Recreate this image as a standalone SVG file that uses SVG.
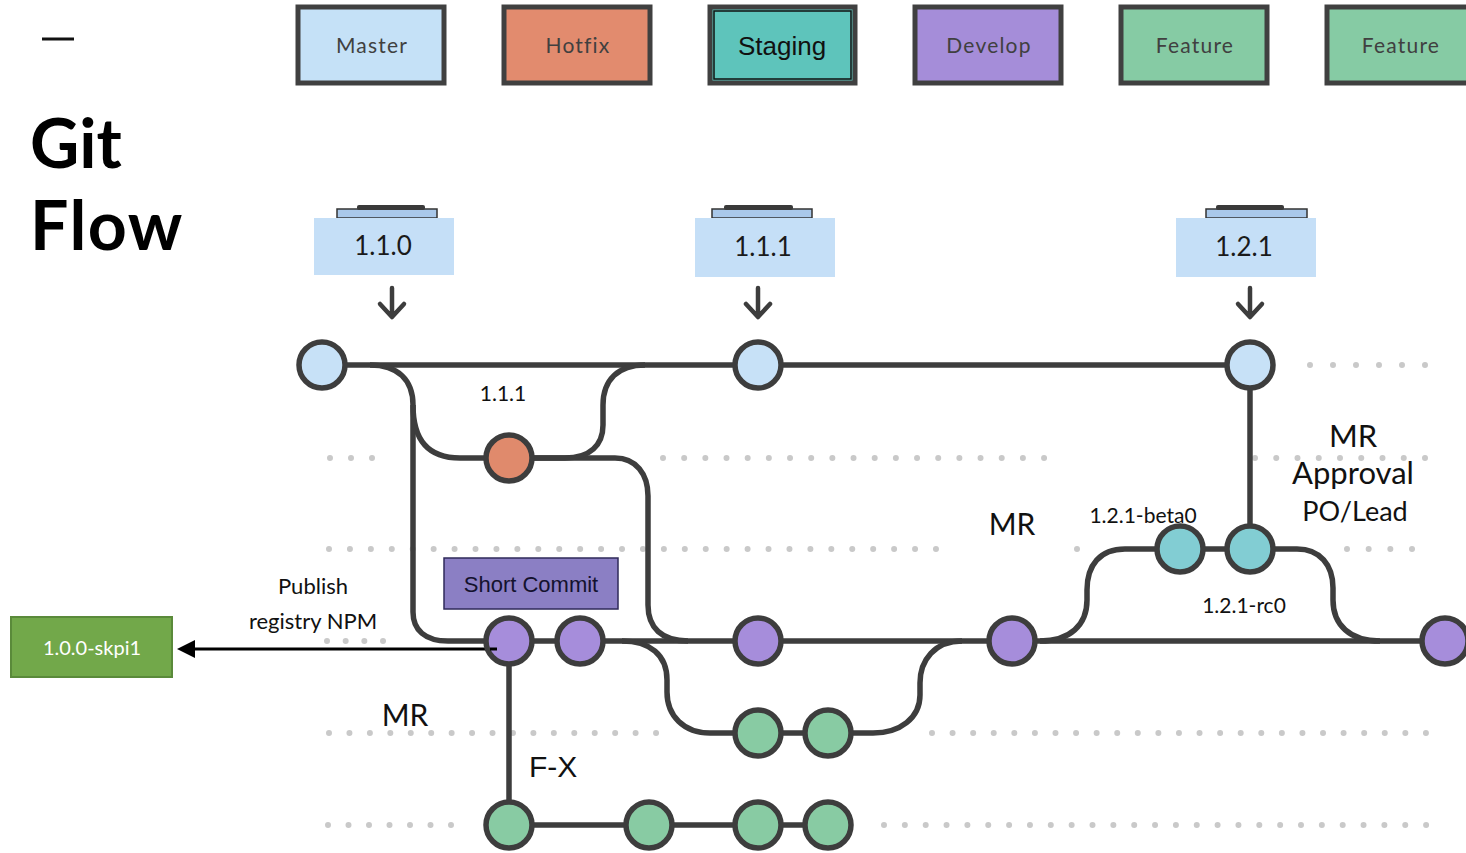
<svg xmlns="http://www.w3.org/2000/svg" width="1466" height="853" viewBox="0 0 1466 853">
<style>
.hdr{stroke:#404040;stroke-width:5}
.hl{font-family:Lato,"Liberation Sans",sans-serif;font-size:21px;fill:#404040;text-anchor:middle;letter-spacing:1.2px}
.tag{fill:#c5dff7}
.tab{fill:#a9c8ea;stroke:#333;stroke-width:1.5}
.bar{fill:#3a3a3a}
.tl{font-family:Lato,"Liberation Sans",sans-serif;font-size:26px;fill:#1a1a1a;text-anchor:middle}
.ar{stroke:#3d3d3d;stroke-width:4.5;fill:none;stroke-linecap:round;stroke-linejoin:round}
.ln{stroke:#3d3d3d;stroke-width:5.5;fill:none}
.nd{stroke:#3d3d3d;stroke-width:5.5}
.m{fill:#c7e1f7}.h{fill:#e08a6c}.s{fill:#82cdd3}.d{fill:#a68ddb}.f{fill:#88cba3}
.dots{stroke:#c9c9c9;stroke-width:6;stroke-linecap:round}
.lb{font-family:Lato,"Liberation Sans",sans-serif;fill:#111;text-anchor:middle}
</style>
<rect width="1466" height="853" fill="#fff"/>
<line x1="42" y1="39" x2="74" y2="39" stroke="#111" stroke-width="3"/>
<text x="30" y="168" font-family="Lato,'Liberation Sans',sans-serif" font-weight="700" font-size="68" fill="#000">Git</text>
<text x="30" y="250" font-family="Lato,'Liberation Sans',sans-serif" font-weight="700" font-size="68" letter-spacing="1.5" fill="#000">Flow</text>

<g id="hdr-master"><rect class="hdr" x="298" y="7" width="146" height="76" fill="#c5e1f7"/><text class="hl" x="372" y="53">Master</text></g>
<g id="hdr-hotfix"><rect class="hdr" x="504" y="7" width="146" height="76" fill="#e28b6e"/><text class="hl" x="578" y="53">Hotfix</text></g>
<g id="hdr-staging"><rect class="hdr" x="710" y="7" width="145" height="76" fill="#5ec4bb"/><rect x="714" y="11" width="137" height="68" fill="none" stroke="#111" stroke-width="1.5"/><text x="782" y="55" font-family="'Liberation Sans',Arial,sans-serif" font-size="26" fill="#111" text-anchor="middle">Staging</text></g>
<g id="hdr-develop"><rect class="hdr" x="915" y="7" width="146" height="76" fill="#a58dd9"/><text class="hl" x="989" y="53">Develop</text></g>
<g id="hdr-feature1"><rect class="hdr" x="1121" y="7" width="146" height="76" fill="#86cba4"/><text class="hl" x="1195" y="53">Feature</text></g>
<g id="hdr-feature2"><rect class="hdr" x="1327" y="7" width="146" height="76" fill="#86cba4"/><text class="hl" x="1401" y="53">Feature</text></g>

<g id="tag-110"><rect class="tab" x="337" y="209" width="100" height="9"/><rect class="bar" x="357" y="205" width="68" height="5" rx="2"/><rect class="tag" x="314" y="218" width="140" height="57"/><text class="tl" x="383" y="255">1.1.0</text><path class="ar" d="M392 288 V316 M380 304 L392 317 L404 304"/></g>
<g id="tag-111"><rect class="tab" x="712" y="209" width="100" height="9"/><rect class="bar" x="724" y="205" width="69" height="5" rx="2"/><rect class="tag" x="695" y="218" width="140" height="59"/><text class="tl" x="763" y="256">1.1.1</text><path class="ar" d="M758 288 V316 M746 304 L758 317 L770 304"/></g>
<g id="tag-121"><rect class="tab" x="1206" y="209" width="101" height="9"/><rect class="bar" x="1216" y="205" width="68" height="5" rx="2"/><rect class="tag" x="1176" y="218" width="140" height="59"/><text class="tl" x="1244" y="256">1.2.1</text><path class="ar" d="M1250 288 V316 M1238 304 L1250 317 L1262 304"/></g>

<g id="dotted-lanes">
<line class="dots" x1="1310" y1="365" x2="1426" y2="365" stroke-dasharray="0 23"/>
<line class="dots" x1="330" y1="458" x2="373" y2="458" stroke-dasharray="0 21"/>
<line class="dots" x1="663" y1="458" x2="1045" y2="458" stroke-dasharray="0 21.17"/>
<line class="dots" x1="1255" y1="458" x2="1426" y2="458" stroke-dasharray="0 21.25"/>
<line class="dots" x1="329" y1="549" x2="937" y2="549" stroke-dasharray="0 20.93"/>
<circle cx="1077" cy="549" r="3" fill="#c9c9c9"/>
<line class="dots" x1="1347" y1="549" x2="1413" y2="549" stroke-dasharray="0 21.67"/>
<line class="dots" x1="327" y1="641" x2="384" y2="641" stroke-dasharray="0 18.67"/>
<line class="dots" x1="329" y1="733" x2="657" y2="733" stroke-dasharray="0 20.44"/>
<line class="dots" x1="932" y1="733" x2="1427" y2="733" stroke-dasharray="0 20.58"/>
<line class="dots" x1="328" y1="825" x2="452" y2="825" stroke-dasharray="0 20.5"/>
<line class="dots" x1="884" y1="825" x2="1427" y2="825" stroke-dasharray="0 20.85"/>
</g>

<g id="connectors">
<path class="ln" d="M322 365 H1250"/>
<path class="ln" d="M370 365 C398 365 413 380 413 405 V612 C413 630 425 641 448 641 H1445"/>
<path class="ln" d="M413 405 C413 440 428 458 460 458 H615 C636 458 648 474 648 496 V605 C648 628 662 641 688 641"/>
<path class="ln" d="M509 458 H565 C590 458 603 445 603 425 V405 C603 380 618 365 645 365"/>
<path class="ln" d="M622 641 C650 641 667 655 667 680 V692 C667 716 684 733 710 733 H873 C900 733 920 718 920 695 V683 C920 660 935 641 962 641"/>
<path class="ln" d="M509 641 V825 H828"/>
<path class="ln" d="M1040 641 C1070 641 1087 625 1087 600 V590 C1087 565 1100 549 1125 549 H1297 C1320 549 1333 565 1333 588 V600 C1333 625 1350 641 1380 641"/>
<path class="ln" d="M1250 365 V549"/>
<path d="M497 649 H190" stroke="#000" stroke-width="3" fill="none"/>
<path d="M177 649 L195 640 L195 658 Z" fill="#000"/>
</g>

<g id="short-commit"><rect x="444" y="558" width="174" height="51" fill="#8b7fc4" stroke="#2f2a5a" stroke-width="1.5"/><text x="531" y="592" font-family="'Liberation Sans',Arial,sans-serif" font-size="22" fill="#14122e" text-anchor="middle">Short Commit</text></g>
<g id="npm-pkg"><rect x="11" y="617" width="161" height="60" fill="#72a84a" stroke="#5a8a3a" stroke-width="2"/><text x="92" y="655" font-family="Lato,'Liberation Sans',sans-serif" font-size="20" fill="#fff" text-anchor="middle">1.0.0-skpi1</text></g>

<g id="nodes">
<circle id="m1" class="nd m" cx="322" cy="365" r="23"/>
<circle id="m2" class="nd m" cx="758" cy="365" r="23"/>
<circle id="m3" class="nd m" cx="1250" cy="365" r="23"/>
<circle id="h1" class="nd h" cx="509" cy="458" r="23"/>
<circle id="s1" class="nd s" cx="1180" cy="549" r="23"/>
<circle id="s2" class="nd s" cx="1250" cy="549" r="23"/>
<circle id="d1" class="nd d" cx="509" cy="641" r="23"/>
<circle id="d2" class="nd d" cx="580" cy="641" r="23"/>
<circle id="d3" class="nd d" cx="758" cy="641" r="23"/>
<circle id="d4" class="nd d" cx="1012" cy="641" r="23"/>
<circle id="d5" class="nd d" cx="1445" cy="641" r="23"/>
<circle id="f1" class="nd f" cx="758" cy="733" r="23"/>
<circle id="f2" class="nd f" cx="828" cy="733" r="23"/>
<circle id="g1" class="nd f" cx="509" cy="825" r="23"/>
<circle id="g2" class="nd f" cx="649" cy="825" r="23"/>
<circle id="g3" class="nd f" cx="758" cy="825" r="23"/>
<circle id="g4" class="nd f" cx="828" cy="825" r="23"/>
</g>
<path d="M497 649 H490" stroke="#000" stroke-width="3"/>

<g id="labels">
<text class="lb" x="503" y="401" font-size="21">1.1.1</text>
<text class="lb" x="1353" y="447" font-size="31">MR</text>
<text class="lb" x="1353" y="484" font-size="31">Approval</text>
<text class="lb" x="1355" y="521" font-size="27">PO/Lead</text>
<text class="lb" x="1012" y="535" font-size="30">MR</text>
<text class="lb" x="1143" y="523" font-size="21">1.2.1-beta0</text>
<text class="lb" x="1244" y="613" font-size="21">1.2.1-rc0</text>
<text class="lb" x="313" y="594" font-size="22">Publish</text>
<text class="lb" x="313" y="629" font-size="22">registry NPM</text>
<text class="lb" x="405" y="726" font-size="30">MR</text>
<text x="529" y="777" font-family="'Liberation Sans',Arial,sans-serif" font-size="30" fill="#111">F-X</text>
</g>
</svg>
